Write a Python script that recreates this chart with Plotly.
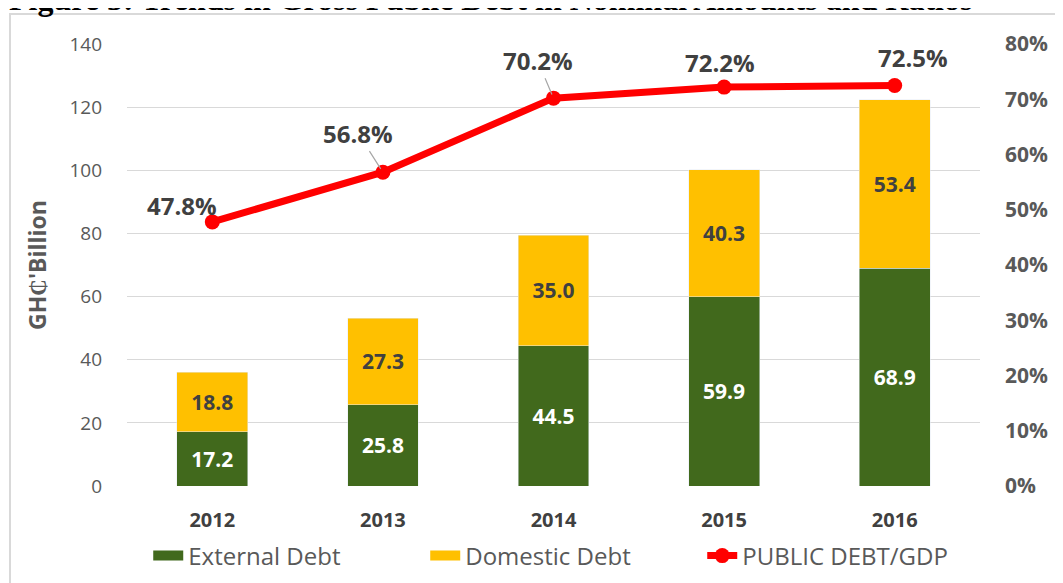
import plotly.graph_objects as go

years = ["2012", "2013", "2014", "2015", "2016"]
external_debt = [17.2, 25.8, 44.5, 59.9, 68.9]
domestic_debt = [18.8, 27.3, 35.0, 40.3, 53.4]
debt_gdp = [0.478, 0.568, 0.702, 0.722, 0.725]
debt_gdp_labels = ["47.8%", "56.8%", "70.2%", "72.2%", "72.5%"]
left_ticks = [0, 20, 40, 60, 80, 100, 120, 140]
right_ticks = [0, 0.1, 0.2, 0.3, 0.4, 0.5, 0.6, 0.7, 0.8]
right_tick_text = ["0%", "10%", "20%", "30%", "40%", "50%", "60%", "70%", "80%"]

GREEN = "#41691C"
YELLOW = "#FFC000"
RED = "#FF0000"
FONT = "Open Sans"

W, H = 1063, 583
OFF = 8  # default page body margin
# target plot area in page pixels: x 127..980, y 44..486
ML, MT = 127 - OFF, 44 - OFF
MR = W - (980 - OFF)
MB = H - (486 - OFF)
PW = W - ML - MR
PH = H - MT - MB

def px_x(p):
    return (p - OFF - ML) / PW

def px_y(p):
    return (H - MB - (p - OFF)) / PH

fig = go.Figure()
fig.add_trace(go.Bar(
    x=years, y=external_debt, name="External Debt", marker_color=GREEN,
    width=0.415, text=[f"{v:.1f}" for v in external_debt],
    textposition="inside", insidetextanchor="middle",
    textfont=dict(family=FONT, size=21, color="white", weight="bold"),
    showlegend=False,
))
fig.add_trace(go.Bar(
    x=years, y=domestic_debt, name="Domestic Debt", marker_color=YELLOW,
    width=0.415, text=[f"{v:.1f}" for v in domestic_debt],
    textposition="inside", insidetextanchor="middle",
    textfont=dict(family=FONT, size=21, color="#404040", weight="bold"),
    showlegend=False,
))
# legend swatches for the bar series
fig.add_trace(go.Scatter(x=[years[0]], y=[None], mode="lines", name="External Debt",
                         line=dict(color=GREEN, width=17)))
fig.add_trace(go.Scatter(x=[years[0]], y=[None], mode="lines", name="Domestic Debt",
                         line=dict(color=YELLOW, width=17)))
fig.add_trace(go.Scatter(
    x=years, y=debt_gdp, name="PUBLIC DEBT/GDP", yaxis="y2",
    mode="lines+markers", line=dict(color=RED, width=7),
    marker=dict(color=RED, size=15),
))

offsets = [(-30, -16), (-25, -39), (-16, -38), (-4, -25), (18, -28)]
leader = [False, True, True, False, False]
for i, (v, lab, (ax, ay), ld) in enumerate(zip(debt_gdp, debt_gdp_labels, offsets, leader)):
    fig.add_annotation(
        x=i, y=v, xref="x", yref="y2", text=lab, showarrow=True,
        ax=ax, ay=ay, arrowhead=0, arrowwidth=1.2, standoff=4,
        arrowcolor="#A6A6A6" if ld else "rgba(0,0,0,0)",
        font=dict(family=FONT, size=24, color="#404040", weight="bold"),
    )

fig.add_annotation(
    x=px_x(490), xref="paper", y=px_y(19), yref="paper", yanchor="bottom",
    xanchor="center",
    text="Figure 3: Trends in Gross Public Debt in Nominal Amounts and Ratios",
    showarrow=False,
    font=dict(family="Liberation Serif", size=32, color="black", weight="bold"),
)

fig.add_shape(type="rect", xref="paper", yref="paper",
              x0=px_x(10), x1=px_x(1080), y0=px_y(600), y1=px_y(14),
              line=dict(color="#D9D9D9", width=2), layer="below")

fig.update_layout(
    width=W, height=H, margin=dict(l=ML, r=MR, t=MT, b=MB, autoexpand=False),
    barmode="stack", bargap=0.585,
    plot_bgcolor="white", paper_bgcolor="white",
    font=dict(family=FONT, color="#595959"),
    xaxis=dict(
        type="category", categoryorder="array", categoryarray=years,
        range=[-0.5, 4.5], autorange=False,
        showgrid=False, showline=False, ticks="", automargin=False,
        ticklabelstandoff=20,
        tickfont=dict(family=FONT, size=20, color="#404040", weight="bold"),
    ),
    yaxis=dict(
        range=[0, 140], tickvals=left_ticks, showgrid=True,
        gridcolor="#D9D9D9", gridwidth=1, zeroline=False, showline=False,
        automargin=False,
        tickfont=dict(family=FONT, size=19, color="#595959"),
        ticklabelstandoff=24,
        title=dict(text="GH₵'Billion", standoff=16,
                   font=dict(family=FONT, size=23, color="#595959", weight="bold")),
    ),
    yaxis2=dict(
        range=[0, 0.8], tickvals=right_ticks, ticktext=right_tick_text,
        overlaying="y", side="right", showgrid=False, zeroline=False,
        showline=False, ticklabelstandoff=24, automargin=False,
        tickfont=dict(family=FONT, size=21, color="#595959", weight="bold"),
    ),
    legend=dict(
        orientation="h", x=0.512, xanchor="center", y=px_y(556), yanchor="middle",
        font=dict(family=FONT, size=24, color="#595959"),
        traceorder="normal", entrywidth=232,
    ),
    showlegend=True,
)

fig.write_html("out.html")
